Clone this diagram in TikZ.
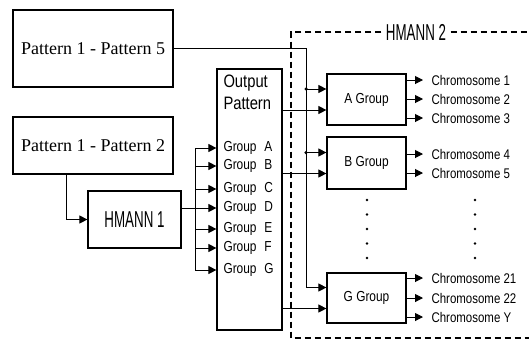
\documentclass[tikz,border=0pt]{standalone}
\usepackage{fontspec}
\setmainfont{Liberation Serif}
\newfontfamily\narrowsans{Liberation Sans}[FakeStretch=0.82]
\newfontfamily\tallsans{Liberation Sans}[FakeStretch=0.58]
\usetikzlibrary{arrows.meta,positioning,calc}

\begin{document}
\begin{tikzpicture}[
  x=1pt, y=-1pt,
  line width=1pt,
  box/.style={draw, line width=1.2pt, inner sep=0pt},
  pattbox/.style={box, minimum width=160pt, font=\fontsize{18}{20}\selectfont},
  grpbox/.style={box, minimum width=79pt, minimum height=51pt, font=\narrowsans\fontsize{14.5}{16}\selectfont},
  grplabel/.style={anchor=west, inner sep=0pt, font=\narrowsans\fontsize{14.5}{16}\selectfont},
  chrom/.style={anchor=west, inner sep=0pt, font=\narrowsans\fontsize{14}{16}\selectfont},
  net/.style={font=\tallsans\fontsize{23}{24}\selectfont},
  frame/.style={line width=1.2pt, dash pattern=on 6pt off 4pt},
  arrow/.style={-{Triangle[length=8pt,width=8pt]}},
  junction/.style={circle, fill, inner sep=0pt, minimum size=3.5pt}
]
\useasboundingbox (0,0) rectangle (529,341);

% left side
\node[pattbox, minimum height=77pt] (p5) at (93,48.5) {Pattern 1 - Pattern 5};
\node[pattbox, minimum height=57pt] (p2) at (93,145.5) {Pattern 1 - Pattern 2};
\node[box, net, minimum width=93pt, minimum height=57pt] (h1) at (134.5,219.5) {HMANN 1};

% output pattern
\node[box, minimum width=65pt, minimum height=261pt] (out) at (249.5,199.5) {};
\node[anchor=north west, align=left, inner sep=0pt, font=\narrowsans\fontsize{18}{22}\selectfont] (outtxt) at (223,74) {Output\\Pattern};
\node[grplabel] (gA) at (223,148) {\makebox[41pt][l]{Group}A};
\node[grplabel] (gB) at (223,166) {\makebox[41pt][l]{Group}B};
\node[grplabel] (gC) at (223,189) {\makebox[41pt][l]{Group}C};
\node[grplabel] (gD) at (223,208) {\makebox[41pt][l]{Group}D};
\node[grplabel] (gE) at (223,229) {\makebox[41pt][l]{Group}E};
\node[grplabel] (gF) at (223,248) {\makebox[41pt][l]{Group}F};
\node[grplabel] (gG) at (223,270) {\makebox[41pt][l]{Group}G};

% HMANN 2
\node[net, inner sep=0pt] (hm2) at (416,32) {HMANN 2};
\coordinate (frTL) at (291,32);
\coordinate (frBL) at (291,338);
\coordinate (frTR) at (529,32);
\coordinate (frBR) at (529,338);

\node[grpbox] (agrp) at (366.5,99.5) {A Group};
\node[grpbox, minimum height=52pt] (bgrp) at (366.5,163) {B Group};
\node[grpbox, minimum height=50pt] (ggrp) at (366.5,298) {G Group};

\coordinate (ain1) at ($(agrp.west)+(0,-10.5)$);
\coordinate (ain2) at ($(agrp.west)+(0,10.5)$);
\coordinate (bin1) at ($(bgrp.west)+(0,-10.5)$);
\coordinate (bin2) at ($(bgrp.west)+(0,10.5)$);
\coordinate (gin1) at ($(ggrp.west)+(0,-10.5)$);
\coordinate (gin2) at ($(ggrp.west)+(0,10.5)$);

\node[chrom] (c1) at (431,80) {Chromosome 1};
\node[chrom] (c2) at (431,99) {Chromosome 2};
\node[chrom] (c3) at (431,118) {Chromosome 3};
\node[chrom] (c4) at (431,154) {Chromosome 4};
\node[chrom] (c5) at (431,173) {Chromosome 5};
\node[chrom] (c21) at (431,278) {Chromosome 21};
\node[chrom] (c22) at (431,298) {Chromosome 22};
\node[chrom] (cY) at (431,317) {Chromosome Y};

% connectors, left part
\coordinate (bus) at (195,0);
\draw[arrow] ([xshift=-27pt]p2.south) |- (h1.west);
\draw (bus |- gA) -- (bus |- gG);
\draw[arrow] (h1.east |- gD) -- (out.west |- gD);
\draw[arrow] (bus |- gA) -- (out.west |- gA);
\draw[arrow] (bus |- gB) -- (out.west |- gB);
\draw[arrow] (bus |- gC) -- (out.west |- gC);
\draw[arrow] (bus |- gE) -- (out.west |- gE);
\draw[arrow] (bus |- gF) -- (out.west |- gF);
\draw[arrow] (bus |- gG) -- (out.west |- gG);

% connectors, right part
\coordinate (p5bus) at (306,0);
\draw[arrow] (p5.east) -| (p5bus |- gin1) -- (gin1);
\draw[arrow] (p5bus |- ain1) -- (ain1);
\draw[arrow] (p5bus |- bin1) -- (bin1);
\node[junction] (j1) at (p5bus |- ain1) {};
\node[junction] (j2) at (p5bus |- bin1) {};
\draw[arrow] (out.east |- ain2) -- (ain2);
\draw[arrow] (out.east |- bin2) -- (bin2);
\draw[arrow] (out.east |- gin2) -- (gin2);

\draw[arrow] (agrp.east |- c1) -- ([xshift=-8pt]c1.west);
\draw[arrow] (agrp.east |- c2) -- ([xshift=-8pt]c2.west);
\draw[arrow] (agrp.east |- c3) -- ([xshift=-8pt]c3.west);
\draw[arrow] (bgrp.east |- c4) -- ([xshift=-8pt]c4.west);
\draw[arrow] (bgrp.east |- c5) -- ([xshift=-8pt]c5.west);
\draw[arrow] (ggrp.east |- c21) -- ([xshift=-8pt]c21.west);
\draw[arrow] (ggrp.east |- c22) -- ([xshift=-8pt]c22.west);
\draw[arrow] (ggrp.east |- cY) -- ([xshift=-8pt]cY.west);

% dashed frame
\draw[frame] ([xshift=-4pt]hm2.west) -- (frTL) -- (frBL) -- (frBR);
\draw[frame] ([xshift=4pt]hm2.east) -- (frTR);

% dots
\fill (367,200) circle (1.4pt) (367,214.5) circle (1.4pt) (367,229) circle (1.4pt) (367,243.5) circle (1.4pt) (367,258) circle (1.4pt);
\fill (475,200) circle (1.4pt) (475,214.5) circle (1.4pt) (475,229) circle (1.4pt) (475,243.5) circle (1.4pt) (475,258) circle (1.4pt);

\end{tikzpicture}
\end{document}
